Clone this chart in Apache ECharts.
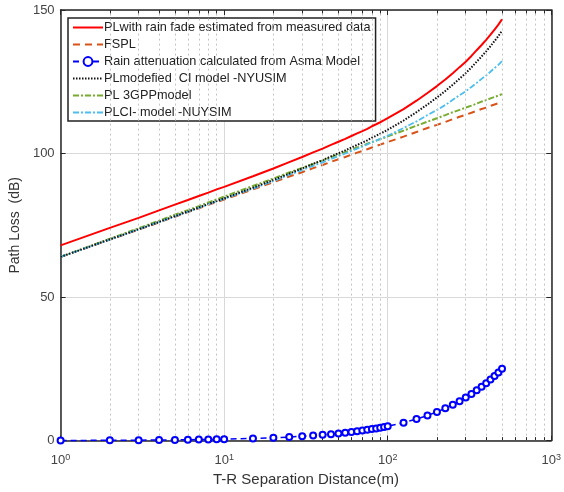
<!DOCTYPE html>
<html>
<head>
<meta charset="utf-8">
<script src="https://cdn.jsdelivr.net/npm/echarts@6/dist/echarts.min.js"></script>
<style>
html,body{margin:0;padding:0;background:#fff;}
#c{width:564px;height:492px;}
</style>
</head>
<body>
<div id="c"></div>
<script>
// distances (m)
var distances = [1,2,3,4,5,6,7,8,9,10,15,20,25,30,35,40,45,50,55,60,65,70,75,80,85,90,95,100,125,150,175,200,225,250,275,300,325,350,375,400,425,450,475,500];
var plRainMeasured = [68.0,74.1,77.6,80.2,82.2,83.8,85.2,86.4,87.5,88.4,92.1,94.8,97.0,98.8,100.4,101.7,103.0,104.1,105.1,106.1,107.0,107.8,108.6,109.5,110.2,110.9,111.6,112.3,115.5,118.4,121.1,123.5,125.8,128.0,130.1,132.0,134.0,136.0,137.8,139.6,141.4,143.2,144.9,146.8];
var fspl = [64.0,70.0,73.5,76.0,78.0,79.6,80.9,82.1,83.1,84.0,87.5,90.0,92.0,93.5,94.9,96.0,97.1,98.0,98.8,99.6,100.3,100.9,101.5,102.1,102.6,103.1,103.6,104.0,105.9,107.5,108.9,110.0,111.0,112.0,112.8,113.5,114.2,114.9,115.5,116.0,116.6,117.1,117.5,118.0];
var rainAsma = [0.05,0.1,0.15,0.2,0.25,0.3,0.35,0.4,0.45,0.5,0.75,1.0,1.25,1.5,1.75,2.0,2.25,2.5,2.75,3.0,3.25,3.5,3.75,4.0,4.25,4.5,4.75,5.0,6.25,7.5,8.75,10.0,11.25,12.5,13.75,15.0,16.25,17.5,18.75,20.0,21.25,22.5,23.75,25.0];
var plCiNyusim = [64.0,70.1,73.6,76.2,78.2,79.8,81.2,82.4,83.5,84.4,88.1,90.8,93.0,94.8,96.4,97.7,99.0,100.1,101.1,102.1,103.0,103.8,104.6,105.5,106.2,106.9,107.6,108.3,111.5,114.4,117.1,119.5,121.8,124.0,126.1,128.0,130.0,132.0,133.8,135.6,137.4,139.2,140.9,142.8];
var pl3gpp = [64.0,70.3,74.0,76.6,78.7,80.3,81.7,83.0,84.0,85.0,88.7,91.3,93.4,95.0,96.4,97.6,98.7,99.7,100.5,101.3,102.1,102.7,103.4,104.0,104.5,105.0,105.5,106.0,108.0,109.7,111.1,112.3,113.4,114.4,115.2,116.0,116.7,117.4,118.1,118.6,119.2,119.7,120.2,120.7];
var plCiModel = [64.0,70.0,73.6,76.1,78.1,79.7,81.1,82.3,83.3,84.2,87.8,90.4,92.6,94.2,95.7,96.9,98.1,99.1,100.0,100.9,101.7,102.4,103.2,103.9,104.5,105.1,105.7,106.2,108.9,111.2,113.4,115.2,116.9,118.7,120.3,121.7,123.2,124.6,126.0,127.2,128.5,129.8,130.9,132.2];
var seriesNames = [
  'PLwith rain fade estimated from measured data',
  'FSPL',
  'Rain attenuation calculated from Asma Model',
  'PLmodefied  CI model -NYUSIM',
  'PL 3GPPmodel',
  'PLCI- model -NUYSIM'
];
var minorGrid = [2,3,4,5,6,7,8,9,20,30,40,50,60,70,80,90,200,300,400,500,600,700,800,900];
var yTicks = [0, 50, 100, 150];

function pairs(ys){ return distances.map(function(d,i){ return [d, ys[i]]; }); }

var FONT = 'Liberation Sans, Arial, sans-serif';
var axisCol = '#262626';

var legendData = seriesNames.map(function(n, i){
  return i === 2 ? {name: n} : {name: n, itemStyle: {opacity: 0}};
});

var minorTickLines = [];
minorGrid.forEach(function(v){
  minorTickLines.push([{coord: [v, 0]}, {coord: [v, 1.2]}]);
  minorTickLines.push([{coord: [v, 150]}, {coord: [v, 148.8]}]);
});

var chart = echarts.init(document.getElementById('c'), null, {renderer:'canvas'});
chart.setOption({
  backgroundColor: '#fff',
  animation: false,
  textStyle: {fontFamily: FONT},
  grid: {left: 60, right: 7, top: 10, bottom: 50, containLabel: false},
  legend: {
    data: legendData,
    orient: 'vertical',
    left: 68, top: 18,
    padding: [3, 5, 2, 4],
    itemGap: 4,
    itemWidth: 30,
    itemHeight: 11,
    backgroundColor: '#fff',
    borderColor: '#222',
    borderWidth: 1.5,
    borderRadius: 0,
    textStyle: {fontFamily: FONT, fontSize: 12.7, color: '#222', padding: [0,0,0,-4]}
  },
  xAxis: [{
    type: 'log', logBase: 10, min: 1, max: 1000,
    name: 'T-R Separation Distance(m)',
    nameLocation: 'middle', nameGap: 31,
    nameTextStyle: {fontFamily: FONT, fontSize: 15, color: '#333'},
    axisLine: {show: true, onZero: false, lineStyle: {color: axisCol, width: 1.5}},
    axisTick: {show: true, inside: true, length: 5, lineStyle: {color: axisCol}},
    splitLine: {show: true, lineStyle: {color: '#d9d9d9', width: 1}},
    axisLabel: {
      margin: 12,
      formatter: function(v){ return '{b|10}{s|' + Math.round(Math.log10(v)) + '}'; },
      rich: {
        b: {fontFamily: FONT, fontSize: 13, color: '#444'},
        s: {fontFamily: FONT, fontSize: 9, color: '#444', padding: [0,0,7,0]}
      }
    }
  }, {
    type: 'log', logBase: 10, min: 1, max: 1000, position: 'top',
    axisLine: {show: true, onZero: false, lineStyle: {color: axisCol, width: 1.5}},
    axisTick: {show: true, inside: true, length: 5, lineStyle: {color: axisCol}},
    axisLabel: {show: false}, splitLine: {show: false}
  }],
  yAxis: [{
    type: 'value', min: 0, max: 150, interval: 50,
    name: 'Path Loss  (dB)',
    nameLocation: 'middle', nameGap: 27,
    nameTextStyle: {fontFamily: FONT, fontSize: 14, color: '#333'},
    axisLine: {show: true, onZero: false, lineStyle: {color: axisCol, width: 1.5}},
    axisTick: {show: true, inside: true, length: 5, lineStyle: {color: axisCol}},
    splitLine: {show: true, lineStyle: {color: '#d9d9d9', width: 1}},
    axisLabel: {fontFamily: FONT, fontSize: 13, color: '#444', margin: 6,
      formatter: function(v){ return yTicks.indexOf(v) >= 0 ? String(v) : ''; }}
  }, {
    type: 'value', min: 0, max: 150, interval: 50, position: 'right',
    axisLine: {show: true, onZero: false, lineStyle: {color: axisCol, width: 1.5}},
    axisTick: {show: true, inside: true, length: 5, lineStyle: {color: axisCol}},
    axisLabel: {show: false}, splitLine: {show: false}
  }],
  series: [
    {
      name: '_grid', type: 'line', data: [], z: 0, silent: true,
      markLine: {
        silent: true, symbol: ['none','none'], label: {show: false},
        lineStyle: {color: '#c4c4c4', type: [2,3], width: 1},
        data: minorGrid.map(function(v){ return {xAxis: v}; })
      }
    },
    {
      name: '_ticks', type: 'line', data: [], z: 1, silent: true,
      markLine: {
        silent: true, symbol: ['none','none'], label: {show: false},
        lineStyle: {color: axisCol, type: 'solid', width: 1},
        data: minorTickLines
      }
    },
    {name: seriesNames[1], type: 'line', data: pairs(fspl), symbol: 'none', z: 3,
     lineStyle: {color: '#D95319', width: 2, type: [7,5]}, itemStyle: {color: '#D95319'}},
    {name: seriesNames[4], type: 'line', data: pairs(pl3gpp), symbol: 'none', z: 3,
     lineStyle: {color: '#77AC30', width: 2, type: [6,2,2,2]}, itemStyle: {color: '#77AC30'}},
    {name: seriesNames[5], type: 'line', data: pairs(plCiModel), symbol: 'none', z: 3,
     lineStyle: {color: '#4DBEEE', width: 1.8, type: [6,2,2,2]}, itemStyle: {color: '#4DBEEE'}},
    {name: seriesNames[3], type: 'line', data: pairs(plCiNyusim), symbol: 'none', z: 4,
     lineStyle: {color: '#111', width: 2, type: [1.5,1.5]}, itemStyle: {color: '#111'}},
    {name: seriesNames[0], type: 'line', data: pairs(plRainMeasured), symbol: 'none', z: 5,
     lineStyle: {color: '#ff0000', width: 2}, itemStyle: {color: '#ff0000'}},
    {name: seriesNames[2], type: 'line', data: pairs(rainAsma), clip: false, z: 6,
     symbol: 'emptyCircle', symbolSize: 6, showAllSymbol: true,
     lineStyle: {color: '#0000ff', width: 1.5, type: [6,4]},
     itemStyle: {color: '#0000ff', borderColor: '#0000ff', borderWidth: 1.5}}
  ]
});
</script>
</body>
</html>
